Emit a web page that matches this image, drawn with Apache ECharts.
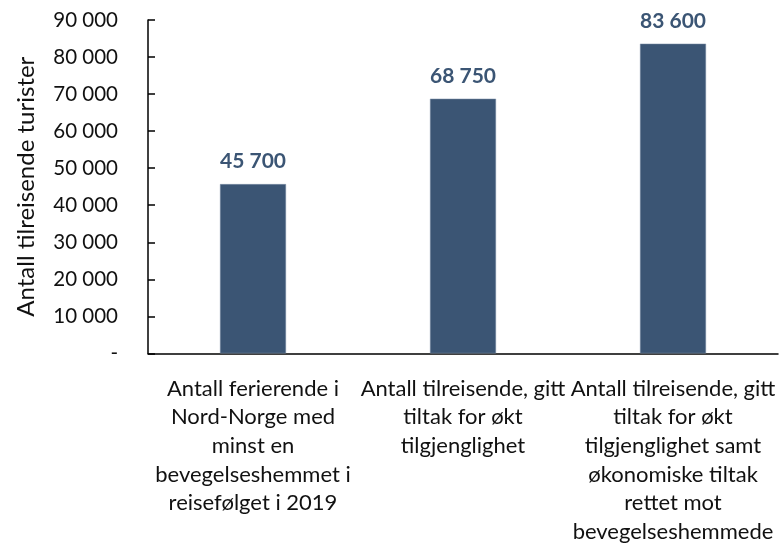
<!DOCTYPE html>
<html>
<head>
<meta charset="utf-8">
<script src="https://cdn.jsdelivr.net/npm/echarts@6/dist/echarts.min.js"></script>
<style>
html,body{margin:0;padding:0;background:#fff;}
#chart{width:783px;height:546px;}
</style>
</head>
<body>
<div id="chart"></div>
<script>
var categories = [
  "Antall ferierende i\nNord-Norge med\nminst en\nbevegelseshemmet i\nreisefølget i 2019",
  "Antall tilreisende, gitt\ntiltak for økt\ntilgjenglighet",
  "Antall tilreisende, gitt\ntiltak for økt\ntilgjenglighet samt\nøkonomiske tiltak\nrettet mot\nbevegelseshemmede"
];
var values = [45700, 68750, 83600];
var yTicks = [0, 10000, 20000, 30000, 40000, 50000, 60000, 70000, 80000, 90000];
var yTitle = "Antall tilreisende turister";

function fmt(v) {
  if (v === 0) return "-";
  return String(v).replace(/\B(?=(\d{3})+(?!\d))/g, " ");
}

var chart = echarts.init(document.getElementById('chart'), null, {renderer: 'canvas'});
var FONT = 'Lato';
chart.setOption({
  animation: false,
  backgroundColor: '#ffffff',
  grid: {left: 148, right: 5, top: 20, bottom: 189, containLabel: false},
  xAxis: {
    type: 'category',
    data: categories,
    axisLine: {show: true, lineStyle: {color: '#000', width: 1.5}},
    axisTick: {show: false},
    axisLabel: {
      interval: 0,
      margin: 21,
      fontFamily: FONT,
      fontSize: 22,
      lineHeight: 28.6,
      color: '#111',
      align: 'center'
    }
  },
  yAxis: {
    type: 'value',
    min: yTicks[0],
    max: yTicks[yTicks.length - 1],
    interval: 10000,
    name: yTitle,
    nameLocation: 'middle',
    nameGap: 110,
    nameTextStyle: {fontFamily: FONT, fontSize: 24, color: '#111'},
    axisLine: {show: true, lineStyle: {color: '#000', width: 1.5}},
    axisTick: {show: true, inside: true, length: 7, lineStyle: {color: '#000', width: 1.5}},
    splitLine: {show: false},
    axisLabel: {
      margin: 30,
      fontFamily: FONT,
      fontSize: 20.5,
      color: '#111',
      formatter: fmt
    }
  },
  series: [{
    type: 'bar',
    data: values,
    barWidth: 66,
    itemStyle: {color: '#3B5574', borderColor: '#7d8fa6', borderWidth: 0.5},
    label: {
      show: true,
      position: 'top',
      distance: 12,
      fontFamily: FONT,
      fontWeight: 'bold',
      fontSize: 21,
      color: '#3B5574',
      formatter: function (p) { return fmt(p.value); }
    }
  }]
});
</script>
</body>
</html>
